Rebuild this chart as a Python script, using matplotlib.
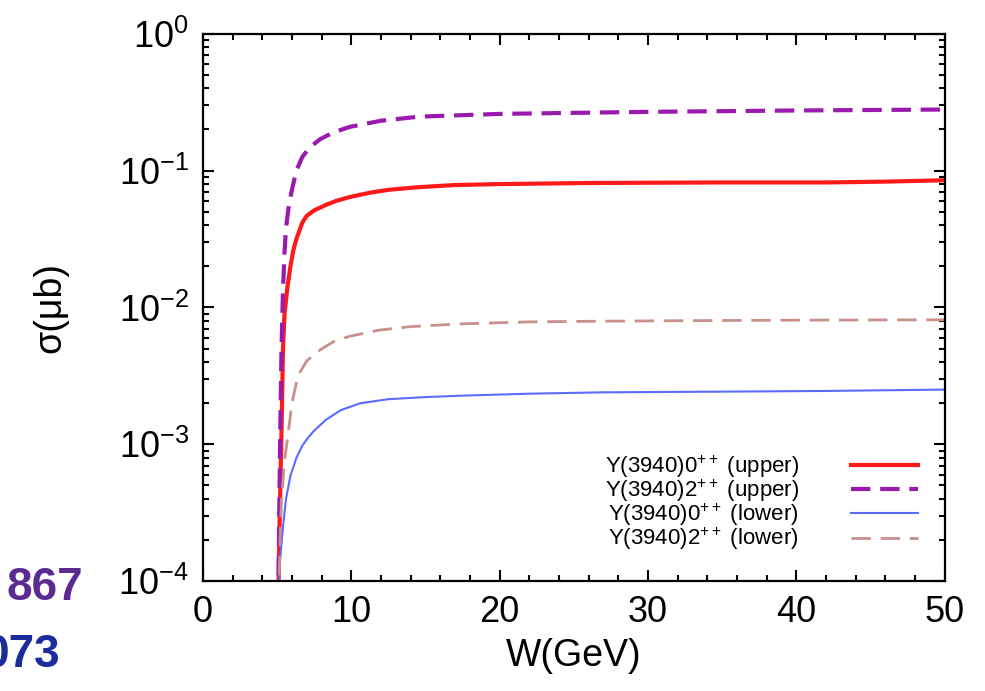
import matplotlib
matplotlib.use("Agg")
import matplotlib.pyplot as plt
import numpy as np
from matplotlib.ticker import MultipleLocator, LogLocator, NullFormatter

plt.rcParams["font.family"] = ["Liberation Sans", "DejaVu Sans"]
plt.rcParams["mathtext.fontset"] = "custom"
plt.rcParams["mathtext.rm"] = "Liberation Sans"
plt.rcParams["mathtext.it"] = "Liberation Sans:italic"
plt.rcParams["lines.scale_dashes"] = False

# --- data: W (GeV) and log10 of sigma (microbarn) ---
w_0pp_upper = [5.0, 5.1, 5.2, 5.3, 5.4, 5.5, 5.7, 5.9, 6.1, 6.3, 6.7, 7.0, 7.5, 8.3,
               9.0, 10, 11.3, 12.5, 14.6, 17, 20, 26, 35, 42, 46, 50]
lg_0pp_upper = [-5.0, -4.0, -3.4, -2.9, -2.3, -2.05, -1.85, -1.7, -1.58, -1.5, -1.38,
                -1.33, -1.29, -1.25, -1.22, -1.19, -1.16, -1.14, -1.12, -1.105,
                -1.098, -1.09, -1.086, -1.086, -1.08, -1.07]

w_2pp_upper = [5.0, 5.1, 5.2, 5.3, 5.4, 5.5, 5.6, 5.8, 6.0, 6.3, 6.7, 7.2, 7.9, 8.8,
               9.9, 12, 14.6, 20, 30, 40, 50]
lg_2pp_upper = [-5.0, -4.0, -3.0, -2.3, -1.87, -1.6, -1.42, -1.25, -1.14, -1.0, -0.9,
                -0.83, -0.77, -0.72, -0.68, -0.635, -0.605, -0.585, -0.57, -0.56, -0.553]

w_0pp_lower = [5.0, 5.1, 5.2, 5.4, 5.6, 5.9, 6.3, 6.7, 7.1, 7.5, 8.3, 9.3, 10.6, 12.5,
               15, 17.3, 22, 27, 35, 42, 50]
lg_0pp_lower = [-5.0, -4.1, -3.85, -3.6, -3.4, -3.23, -3.1, -3.01, -2.95, -2.9, -2.82,
                -2.75, -2.7, -2.67, -2.655, -2.645, -2.63, -2.62, -2.615, -2.61, -2.6]

w_2pp_lower = [5.0, 5.1, 5.2, 5.3, 5.5, 5.7, 6.0, 6.4, 7.0, 7.9, 8.8, 9.9, 11.9, 14,
               17.3, 22, 27, 35, 42, 50]
lg_2pp_lower = [-5.0, -4.2, -3.7, -3.4, -3.12, -2.96, -2.7, -2.5, -2.39, -2.31, -2.25,
                -2.21, -2.165, -2.14, -2.12, -2.105, -2.1, -2.095, -2.092, -2.09]

labels = [r"Y(3940)0$^{++}$ (upper)", r"Y(3940)2$^{++}$ (upper)",
          r"Y(3940)0$^{++}$ (lower)", r"Y(3940)2$^{++}$ (lower)"]

fig = plt.figure(figsize=(9.85, 6.91), dpi=100)
ax = fig.add_axes([0.206, 0.159, 0.753, 0.792])

ax.plot(w_0pp_upper, 10 ** np.array(lg_0pp_upper), color="#ff1a1a", lw=3.0,
        label=labels[0])
ax.plot(w_2pp_upper, 10 ** np.array(lg_2pp_upper), color="#9a1aae", lw=3.0,
        dashes=(14, 7), label=labels[1])
ax.plot(w_0pp_lower, 10 ** np.array(lg_0pp_lower), color="#5a6bff", lw=1.5,
        label=labels[2])
ax.plot(w_2pp_lower, 10 ** np.array(lg_2pp_lower), color="#c8908c", lw=2.0,
        dashes=(14, 7), label=labels[3])

ax.set_yscale("log")
ax.set_xlim(0, 50)
ax.set_ylim(1e-4, 1)
ax.xaxis.set_major_locator(MultipleLocator(10))
ax.xaxis.set_minor_locator(MultipleLocator(2))
ax.yaxis.set_major_locator(LogLocator(base=10, numticks=10))
ax.yaxis.set_minor_locator(LogLocator(base=10, subs=range(2, 10), numticks=10))
ax.yaxis.set_minor_formatter(NullFormatter())

ax.tick_params(which="both", direction="in", top=True, right=True, width=1.5)
ax.tick_params(which="major", length=8, labelsize=26, pad=10)
ax.tick_params(which="minor", length=4)
for sp in ax.spines.values():
    sp.set_linewidth(1.6)

ax.set_xlabel("W(GeV)", fontsize=27, labelpad=6)
ax.set_ylabel("σ(μb)", fontsize=27, labelpad=36)

ax.legend(loc="lower right", frameon=False, markerfirst=False, fontsize=16,
          handlelength=3.0, labelspacing=-0.1, handletextpad=2.35,
          bbox_to_anchor=(0.9906, 0.016))

# slide text fragments visible at the lower left
fig.text(83 / 985, 1 - 588 / 691, "867", color="#5b2a92", fontsize=33,
         fontweight="bold", ha="right", va="center")
fig.text(60 / 985, 1 - 655 / 691, "073", color="#1c2c9c", fontsize=33,
         fontweight="bold", ha="right", va="center")

fig.savefig("out.png", dpi=100)
